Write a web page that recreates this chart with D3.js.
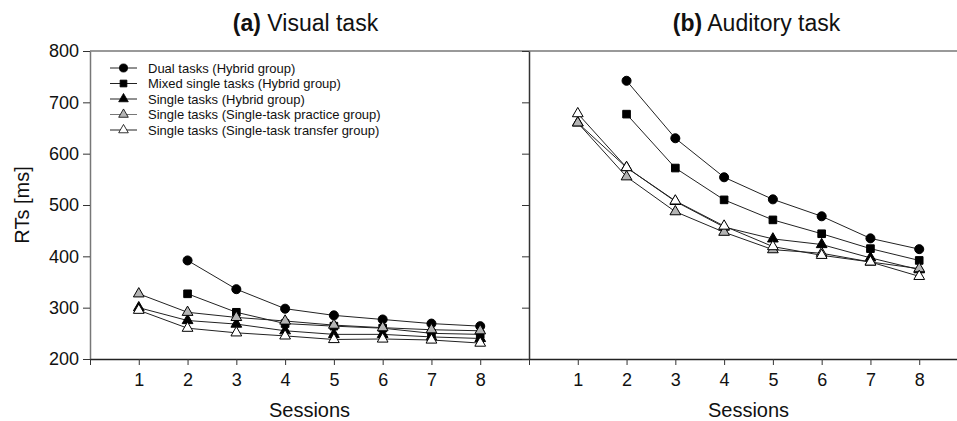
<!DOCTYPE html>
<html>
<head>
<meta charset="utf-8">
<script src="https://cdn.jsdelivr.net/npm/d3@7"></script>
<style>
  body { margin: 0; background: #fff; }
  svg text { font-family: "Liberation Sans", Arial, Helvetica, sans-serif; fill: #111; }
</style>
</head>
<body>
<div id="container"></div>
<script>
/* CONSTANTS AND GLOBALS */
const width = 957,
  height = 421,
  margin = { top: 51, bottom: 62, left: 90 };
const panelWidth = 439;

/* DATA */
const sessions = [1, 2, 3, 4, 5, 6, 7, 8];
const yTicks = [200, 300, 400, 500, 600, 700, 800];
const panelTitles = [["(a)", " Visual task"], ["(b)", " Auditory task"]];
const seriesNames = [
  "Dual tasks (Hybrid group)",
  "Mixed single tasks (Hybrid group)",
  "Single tasks (Hybrid group)",
  "Single tasks (Single-task practice group)",
  "Single tasks (Single-task transfer group)"
];

// visual task RTs per session (null = not measured)
const visualDual = [null, 392, 336, 298, 285, 277, 269, 264];
const visualMixed = [null, 327, 291, 269, 264, 260, 250, 248];
const visualSingleHybrid = [300, 275, 268, 255, 248, 248, 243, 240];
const visualSinglePractice = [327, 291, 281, 274, 266, 261, 257, 255];
const visualSingleTransfer = [295, 260, 251, 245, 238, 239, 237, 231];

// auditory task RTs per session
const auditoryDual = [null, 742, 630, 554, 511, 478, 435, 414];
const auditoryMixed = [null, 677, 572, 510, 471, 444, 415, 392];
const auditorySingleHybrid = [660, 573, 507, 457, 434, 423, 397, 374];
const auditorySinglePractice = [660, 555, 487, 447, 413, 406, 389, 376];
const auditorySingleTransfer = [678, 573, 508, 459, 419, 402, 389, 361];

const panels = [
  [visualDual, visualMixed, visualSingleHybrid, visualSinglePractice, visualSingleTransfer],
  [auditoryDual, auditoryMixed, auditorySingleHybrid, auditorySinglePractice, auditorySingleTransfer]
];

// marker style per series
const markers = [
  { type: d3.symbolCircle, size: 64, fill: "#000" },
  { type: d3.symbolSquare, size: 58, fill: "#000" },
  { type: d3.symbolTriangle, size: 50, fill: "#000" },
  { type: d3.symbolTriangle, size: 50, fill: "#b4b4b4" },
  { type: d3.symbolTriangle, size: 50, fill: "#fff" }
];

// SCALES
const yScale = d3.scaleLinear()
  .domain([200, 800])
  .range([height - margin.bottom, margin.top]);

const xScales = [0, 1].map(i => d3.scaleLinear()
  .domain([0, 9])
  .range([margin.left + i * panelWidth, margin.left + (i + 1) * panelWidth]));

// CREATE SVG ELEMENT
const svg = d3.select("#container")
  .append("svg")
  .attr("width", width)
  .attr("height", height);

const y0 = yScale(200), y1 = yScale(800);

// FRAME
svg.append("line")
  .attr("x1", margin.left).attr("x2", width)
  .attr("y1", y1).attr("y2", y1)
  .attr("stroke", "#777").attr("stroke-width", 1.5);

panels.forEach((series, p) => {
  const x = xScales[p];

  // y axis (labels only on the left panel)
  const yAxis = d3.axisLeft(yScale)
    .tickValues(yTicks)
    .tickSize(7)
    .tickPadding(4)
    .tickSizeOuter(0)
    .tickFormat(p === 0 ? d3.format("d") : () => "");

  const gy = svg.append("g")
    .attr("transform", `translate(${x(0)},0)`)
    .call(yAxis);
  gy.select(".domain").attr("stroke", p === 0 ? "#777" : "#333").attr("stroke-width", 1.5);
  gy.selectAll(".tick line").attr("stroke", "#333");
  gy.selectAll(".tick text").style("font-size", "18px");

  // x axis
  const xAxis = d3.axisBottom(x)
    .tickValues(d3.range(0, 10))
    .tickSize(6)
    .tickPadding(8)
    .tickSizeOuter(0)
    .tickFormat(d => (d >= 1 && d <= 8 ? d : ""));

  const gx = svg.append("g")
    .attr("transform", `translate(0,${y0})`)
    .call(xAxis);
  gx.select(".domain").attr("stroke", "#222").attr("stroke-width", 1.5);
  gx.selectAll(".tick line").attr("stroke", "#333");
  gx.selectAll(".tick text").style("font-size", "18px");

  gx.append("text")
    .attr("x", x(4.5))
    .attr("y", 58)
    .attr("text-anchor", "middle")
    .style("font-size", "20px")
    .text("Sessions");

  // panel title
  const title = svg.append("text")
    .attr("x", x(4.5) + (p === 0 ? -4 : 8))
    .attr("y", 31)
    .attr("text-anchor", "middle")
    .style("font-size", "23px");
  title.append("tspan").style("font-weight", "bold").text(panelTitles[p][0]);
  title.append("tspan").text(panelTitles[p][1]);

  // LINES AND MARKERS
  const lineGen = d3.line()
    .defined(d => d.v !== null)
    .x(d => x(d.s))
    .y(d => yScale(d.v));

  series.forEach((vals, k) => {
    const pts = sessions.map((s, i) => ({ s: s, v: vals[i] }));
    svg.append("path")
      .datum(pts)
      .attr("d", lineGen)
      .attr("fill", "none")
      .attr("stroke", "#222")
      .attr("stroke-width", 1);

    svg.selectAll(null)
      .data(pts.filter(d => d.v !== null))
      .join("path")
      .attr("transform", d => `translate(${x(d.s)},${yScale(d.v)})`)
      .attr("d", d3.symbol().type(markers[k].type).size(markers[k].size))
      .attr("fill", markers[k].fill)
      .attr("stroke", "#000")
      .attr("stroke-width", 1);
  });
});

// Y AXIS LABEL
svg.append("text")
  .attr("transform", `translate(29,${(y0 + y1) / 2}) rotate(-90)`)
  .attr("text-anchor", "middle")
  .style("font-size", "20px")
  .text("RTs [ms]");

// LEGEND
const legend = svg.append("g")
  .attr("transform", "translate(110,68)");

seriesNames.forEach((name, k) => {
  const row = legend.append("g").attr("transform", `translate(0,${k * 15.5})`);
  row.append("line")
    .attr("x1", 0).attr("x2", 27)
    .attr("stroke", k === 3 ? "#777" : "#222").attr("stroke-width", 1);
  row.append("path")
    .attr("transform", "translate(13.5,0)")
    .attr("d", d3.symbol().type(markers[k].type).size(markers[k].size * 0.8))
    .attr("fill", markers[k].fill)
    .attr("stroke", "#000")
    .attr("stroke-width", 0.8);
  row.append("text")
    .attr("x", 38)
    .attr("y", 4.5)
    .style("font-size", "13px")
    .text(name);
});
</script>
</body>
</html>
